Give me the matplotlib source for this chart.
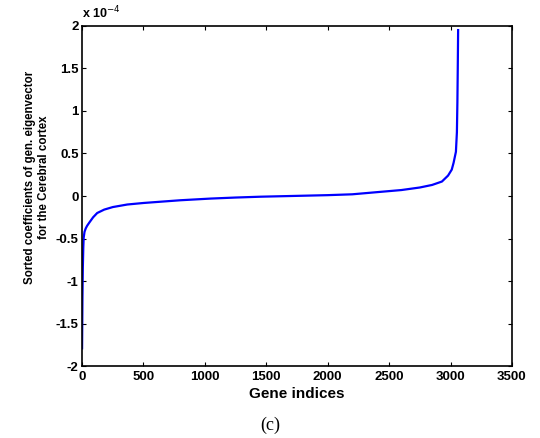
import matplotlib
matplotlib.use('Agg')
import matplotlib.pyplot as plt

plt.rcParams['font.family'] = ['Liberation Sans', 'DejaVu Sans']
plt.rcParams['axes.unicode_minus'] = True

# sorted eigenvector coefficients (units of 1e-4)
gene_idx = [0, 3, 6, 10, 13, 20, 30, 41, 60, 90, 123, 180, 250, 368, 500,
            640, 800, 1049, 1250, 1458, 1700, 2000, 2200, 2439, 2600, 2750,
            2850, 2930, 2980, 3010, 3025, 3044, 3052, 3056, 3059, 3062]
coef = [-1.79, -1.20, -0.85, -0.60, -0.49, -0.42, -0.38, -0.35, -0.31, -0.25,
        -0.20, -0.16, -0.13, -0.10, -0.082, -0.067, -0.05, -0.03, -0.018,
        -0.008, 0.0, 0.01, 0.02, 0.05, 0.07, 0.10, 0.13, 0.17, 0.24, 0.31,
        0.39, 0.52, 0.75, 1.10, 1.50, 1.95]

xticks = [0, 500, 1000, 1500, 2000, 2500, 3000, 3500]
yticks = [-2, -1.5, -1, -0.5, 0, 0.5, 1, 1.5, 2]

fig = plt.figure(figsize=(5.4, 4.38), dpi=100)
ax = fig.add_axes([0.152, 0.164, 0.796, 0.777])
ax.plot(gene_idx, coef, color='#0000ff', lw=1.6)

ax.set_xlim(0, 3500)
ax.set_ylim(-2, 2)
ax.set_xticks(xticks)
ax.set_yticks(yticks)
ax.set_yticklabels(['%g' % v for v in yticks])
ax.tick_params(direction='in', top=True, right=True, length=3, width=0.8,
               labelsize=9.5, pad=3.5)
ax.tick_params(axis='y', pad=2.5)
for lab in ax.get_xticklabels() + ax.get_yticklabels():
    lab.set_fontweight('bold')
for s in ax.spines.values():
    s.set_linewidth(1.2)

ax.set_xlabel('Gene indices', fontsize=11, fontweight='bold')
ax.xaxis.set_label_coords(0.5, -0.062)
ax.set_ylabel('Sorted coefficients of gen. eigenvector\nfor the Cerebral cortex',
              fontsize=8.3, fontweight='bold', linespacing=1.15)
ax.yaxis.set_label_coords(-0.075, 0.556)
ax.text(0.0, 1.012, r'x 10$^{-4}$', transform=ax.transAxes, fontsize=9,
        fontweight='bold', ha='left', va='bottom')

fig.text(0.5, 0.03, '(c)', ha='center', va='center', fontsize=13,
         family=['Liberation Serif', 'DejaVu Serif'])

fig.savefig('out.png', dpi=100)
